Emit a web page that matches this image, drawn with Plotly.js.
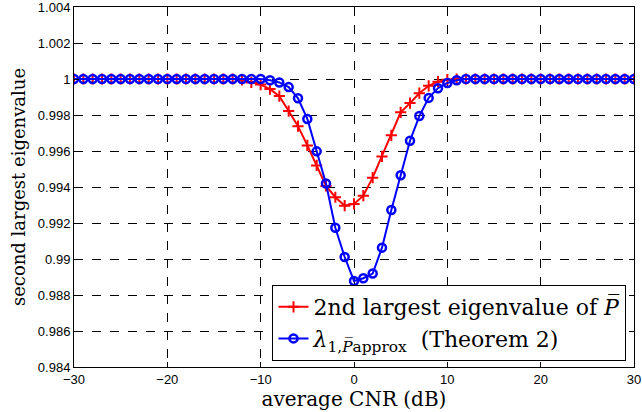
<!DOCTYPE html>
<html><head><meta charset="utf-8">
<script src="https://cdn.plot.ly/plotly-3.0.1.min.js"></script>
<style>html,body{margin:0;padding:0;background:#fff}#chart{width:642px;height:412px}</style>
</head><body><div id="chart"></div>
<script>
const cnr = [-30,-29,-28,-27,-26,-25,-24,-23,-22,-21,-20,-19,-18,-17,-16,-15,-14,-13,-12,-11,-10,-9,-8,-7,-6,-5,-4,-3,-2,-1,0,1,2,3,4,5,6,7,8,9,10,11,12,13,14,15,16,17,18,19,20,21,22,23,24,25,26,27,28,29,30];
const secondEig = [1,1,1,1,1,1,1,1,1,1,1,1,1,1,1,1,1,1,
  0.99995,0.99981,0.99969,0.99944,0.99905,0.99822,0.99738,0.99631,0.99520,0.99406,0.99343,0.99296,
  0.99306,0.99352,0.99452,0.99570,0.99687,0.99815,0.99866,0.99921,0.99962,0.99985,0.99996,
  1,1,1,1,1,1,1,1,1,1,1,1,1,1,1,1,1,1,1,1];
const lambdaApprox = [1,1,1,1,1,1,1,1,1,1,1,1,1,1,1,1,1,1,1,1,1,
  0.99993,0.99981,0.99955,0.99893,0.99778,0.99598,0.99419,0.99174,0.99011,
  0.98878,0.98893,0.98919,0.99063,0.99272,0.99465,0.99657,0.99794,0.99895,0.99949,0.99978,0.99993,
  1,1,1,1,1,1,1,1,1,1,1,1,1,1,1,1,1,1,1];
const yTickVals = [0.984,0.986,0.988,0.99,0.992,0.994,0.996,0.998,1,1.002,1.004];
const yTickText = ['0.984','0.986','0.988','0.99','0.992','0.994','0.996','0.998','1','1.002','1.004'];
const xTickVals = [-30,-20,-10,0,10,20,30];
const xTickText = ['\u221230','\u221220','\u221210','0','10','20','30'];

const serif = 'DejaVu Serif';
const sans = 'Liberation Sans';

const traces = [
  {x: cnr, y: secondEig, type: 'scatter', mode: 'lines+markers',
   name: '2nd largest eigenvalue of <i>P\u0305</i>',
   line: {color: '#ff0000', width: 2},
   marker: {symbol: 'cross-thin-open', size: 8, color: '#ff0000', line: {color: '#ff0000', width: 2}}},
  {x: cnr, y: lambdaApprox, type: 'scatter', mode: 'lines+markers',
   name: '<i>λ</i><sub>1,<i>P\u0305</i>approx</sub>  (Theorem 2)',
   line: {color: '#0000ff', width: 2},
   marker: {symbol: 'circle-open', size: 8, color: '#0000ff', line: {color: '#0000ff', width: 2.5}}}
];

const axisCommon = {
  showline: true, mirror: 'ticks', linecolor: '#000', linewidth: 1,
  ticks: 'inside', ticklen: 5, tickcolor: '#000', tickwidth: 1,
  showgrid: true, gridcolor: '#000', gridwidth: 1, griddash: 'dash',
  zeroline: false, tickmode: 'array', ticklabeloverflow: 'allow',
  tickfont: {family: sans, size: 13, color: '#000'}
};

const layout = {
  width: 642, height: 412,
  margin: {l: 73.5, r: 7.5, t: 7, b: 45},
  paper_bgcolor: '#fff', plot_bgcolor: '#fff',
  showlegend: true,
  xaxis: Object.assign({}, axisCommon, {
    range: [-30, 30], tickvals: xTickVals, ticktext: xTickText,
    title: {text: 'average CNR (dB)', font: {family: serif, size: 20, color: '#000'}, standoff: 0}
  }),
  yaxis: Object.assign({}, axisCommon, {
    range: [0.98399999, 1.00400001], tickvals: yTickVals, ticktext: yTickText,
    title: {text: 'second largest eigenvalue', font: {family: serif, size: 18, color: '#000'}, standoff: 7}
  }),
  legend: {
    x: 0.9866, xanchor: 'right', y: 0.0167, yanchor: 'bottom',
    bgcolor: '#fff', bordercolor: '#000', borderwidth: 1,
    font: {family: serif, size: 22, color: '#000'},
    itemwidth: 30, tracegroupgap: 0
  }
};

Plotly.newPlot('chart', traces, layout, {displayModeBar: false, staticPlot: true});
</script></body></html>
